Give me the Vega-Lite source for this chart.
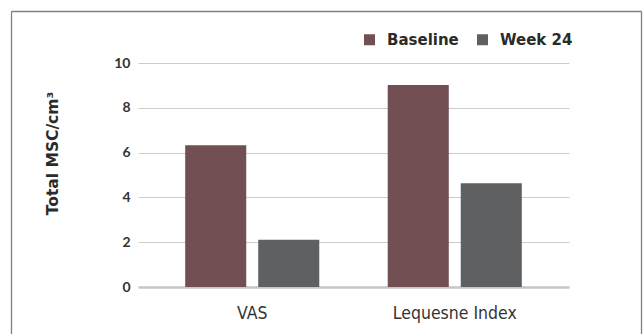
{
  "$schema": "https://vega.github.io/schema/vega-lite/v6.json",
  "width": 431,
  "height": 224,
  "autosize": {"type": "none"},
  "padding": {"left": 138, "top": 63, "right": 74, "bottom": 47},
  "background": "white",
  "layer": [
    {
      "data": {"values": [
        {"measure": "VAS", "period": "Baseline", "value": 6.33},
        {"measure": "VAS", "period": "Week 24", "value": 2.11},
        {"measure": "Lequesne Index", "period": "Baseline", "value": 9.02},
        {"measure": "Lequesne Index", "period": "Week 24", "value": 4.63}
      ]},
      "mark": {"type": "bar"},
      "encoding": {
        "x": {
          "field": "measure", "type": "nominal", "sort": ["VAS", "Lequesne Index"],
          "scale": {"paddingInner": 0.338, "paddingOuter": 0.233},
          "axis": {"title": null, "labelAngle": 0, "ticks": false, "domainColor": "#c3c7cb", "domainWidth": 2.5,
                   "labelFont": "DejaVu Sans Condensed", "labelFontSize": 17.5, "labelColor": "#333333", "labelPadding": 17}
        },
        "xOffset": {"field": "period", "type": "nominal", "scale": {"paddingInner": 0.164, "paddingOuter": 0}},
        "y": {
          "field": "value", "type": "quantitative",
          "scale": {"domain": [0, 10]},
          "axis": {"title": "Total MSC/cm³", "values": [0, 2, 4, 6, 8, 10], "domain": false, "ticks": false,
                   "gridColor": "#cccccc", "gridWidth": 1,
                   "labelFont": "Lato", "labelFontWeight": "bold", "labelFontSize": 14, "labelColor": "#333333", "labelPadding": 8,
                   "titleFont": "DejaVu Sans", "titleFontWeight": "bold", "titleFontSize": 15.5, "titleColor": "#2b2b2b",
                   "titleAngle": -90, "titleAlign": "center", "titleBaseline": "alphabetic", "titleX": -81, "titleY": 90}
        },
        "color": {
          "field": "period", "type": "nominal",
          "scale": {"domain": ["Baseline", "Week 24"], "range": ["#724f52", "#5f6062"]},
          "legend": {"title": null, "orient": "none", "direction": "horizontal", "legendX": 224, "legendY": -31,
                     "symbolType": "square", "symbolSize": 121, "symbolStrokeWidth": 0, "columnPadding": 16,
                     "labelFont": "DejaVu Sans", "labelFontWeight": "bold", "labelFontSize": 15, "labelColor": "#2b2b2b", "labelOffset": 10}
        }
      }
    },
    {
      "data": {"values": [{"side": "left", "pos": 0}, {"side": "right", "pos": 1}]},
      "mark": {"type": "rule", "stroke": "#808080", "strokeWidth": 1.3, "clip": false},
      "encoding": {
        "x": {"field": "pos", "type": "quantitative", "scale": {"domain": [0, 1], "range": [-126.5, 503.5]}, "axis": null},
        "y": {"datum": 1, "type": "quantitative", "scale": {"domain": [0, 1], "range": [271, -51.5], "nice": false, "zero": false}, "axis": null},
        "y2": {"datum": 0}
      }
    },
    {
      "data": {"values": [{"side": "top"}]},
      "mark": {"type": "rule", "stroke": "#808080", "strokeWidth": 1.3, "clip": false},
      "encoding": {
        "x": {"datum": 0, "type": "quantitative", "scale": {"domain": [0, 1], "range": [-126.5, 503.5]}, "axis": null},
        "x2": {"datum": 1},
        "y": {"datum": 1, "type": "quantitative", "scale": {"domain": [0, 1], "range": [271, -51.5], "nice": false, "zero": false}, "axis": null}
      }
    }
  ],
  "resolve": {"scale": {"x": "independent", "y": "independent"}, "axis": {"x": "independent", "y": "independent"}},
  "config": {"view": {"stroke": null}}
}
